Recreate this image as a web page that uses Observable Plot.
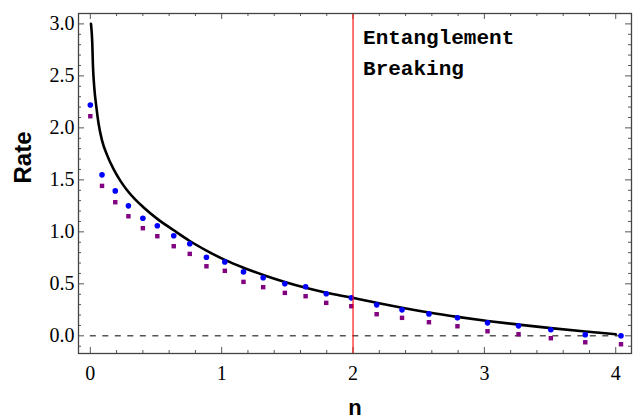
<!DOCTYPE html>
<html>
<head>
<meta charset="utf-8">
<script src="https://cdn.jsdelivr.net/npm/d3@7"></script>
<script src="https://cdn.jsdelivr.net/npm/@observablehq/plot@0.6"></script>
<style>
  html, body { margin: 0; padding: 0; background: white; }
</style>
</head>
<body>
<div id="chart"></div>
<script>
// Sampled n values of the two point series
const nValues = [0, 0.089, 0.19, 0.29, 0.40, 0.51, 0.635, 0.757, 0.884, 1.024, 1.166, 1.316, 1.481, 1.639, 1.796, 1.987, 2.180, 2.373, 2.578, 2.795, 3.024, 3.260, 3.506, 3.768, 4.040];
// Blue circles
const rateBlue = [2.22, 1.548, 1.394, 1.25, 1.131, 1.058, 0.962, 0.885, 0.756, 0.711, 0.615, 0.558, 0.5, 0.471, 0.404, 0.365, 0.298, 0.25, 0.211, 0.173, 0.125, 0.096, 0.058, 0.01, 0.0];
// Purple squares
const ratePurple = [2.112, 1.442, 1.285, 1.15, 1.035, 0.958, 0.862, 0.788, 0.669, 0.625, 0.519, 0.468, 0.413, 0.381, 0.317, 0.285, 0.208, 0.173, 0.131, 0.092, 0.044, 0.015, -0.023, -0.062, -0.081];
// Black bound curve
const curveN    = [0.005, 0.015, 0.02, 0.03, 0.046, 0.063, 0.089, 0.127, 0.178, 0.229, 0.28, 0.343, 0.406, 0.51, 0.635, 0.757, 0.884, 1.024, 1.166, 1.316, 1.481, 1.639, 1.796, 1.987, 2.18, 2.373, 2.578, 2.795, 3.024, 3.26, 3.506, 3.768, 4.0];
const curveRate = [3.0, 2.81, 2.60, 2.39, 2.20, 2.04, 1.88, 1.74, 1.60, 1.49, 1.40, 1.31, 1.235, 1.125, 1.015, 0.912, 0.82, 0.73, 0.655, 0.585, 0.518, 0.462, 0.415, 0.368, 0.318, 0.27, 0.224, 0.182, 0.143, 0.108, 0.074, 0.042, 0.015];
// Entanglement breaking threshold
const breakN = 2;
const annotation = ["Entanglement\nBreaking"];
// Tick values
const xMajor = [0, 1, 2, 3, 4];
const yMajor = [0, 0.5, 1.0, 1.5, 2.0, 2.5, 3.0];
const xMinor = d3.range(0.2, 4.1, 0.2).filter(v => Math.abs(v - Math.round(v)) > 1e-6);
const yMinor = d3.range(-0.1, 3.11, 0.1).map(v => +v.toFixed(1)).filter(v => Math.abs(v * 2 - Math.round(v * 2)) > 1e-6);

const points = nValues.map((n, i) => ({n, blue: rateBlue[i], purple: ratePurple[i]}));
const curve = curveN.map((n, i) => ({n, rate: curveRate[i]}));

const W = 638, H = 418, mL = 78, mR = 7, mT = 13, mB = 65;
const innerH = H - mT - mB;
const innerW = W - mL - mR;
const tickColor = "#555";
const serif = "'Liberation Serif', 'Times New Roman', serif";

const chart = Plot.plot({
  width: W,
  height: H,
  marginLeft: mL,
  marginRight: mR,
  marginTop: mT,
  marginBottom: mB,
  x: {domain: [-0.09, 4.12]},
  y: {domain: [-0.17, 3.10]},
  style: {background: "white", color: "black"},
  marks: [
    // tick labels
    Plot.axisX({ticks: xMajor, tickSize: 0, tickPadding: 12, tickFormat: d => String(d), fontSize: 20, fontFamily: serif, label: null}),
    Plot.axisY({ticks: yMajor, tickSize: 0, tickPadding: 4, tickFormat: d3.format(".1f"), fontSize: 20, fontFamily: serif, label: null}),
    // inward ticks (bottom, top)
    Plot.tickX(xMajor, {x: d => d, insetTop: innerH - 6, stroke: tickColor}),
    Plot.tickX(xMajor, {x: d => d, insetBottom: innerH - 6, stroke: tickColor}),
    Plot.tickX(xMinor, {x: d => d, insetTop: innerH - 3, stroke: tickColor}),
    Plot.tickX(xMinor, {x: d => d, insetBottom: innerH - 3, stroke: tickColor}),
    // inward ticks (left, right)
    Plot.tickY(yMajor, {y: d => d, insetRight: innerW - 6, stroke: tickColor}),
    Plot.tickY(yMajor, {y: d => d, insetLeft: innerW - 6, stroke: tickColor}),
    Plot.tickY(yMinor, {y: d => d, insetRight: innerW - 3, stroke: tickColor}),
    Plot.tickY(yMinor, {y: d => d, insetLeft: innerW - 3, stroke: tickColor}),
    // zero dashed line
    Plot.ruleY([0], {x1: nValues[0], x2: nValues[nValues.length - 1], stroke: "#555", strokeWidth: 1.5, strokeDasharray: "6,6.5"}),
    // bound curve
    Plot.line(curve, {x: "n", y: "rate", stroke: "black", strokeWidth: 2.6, curve: "monotone-x"}),
    // points
    Plot.dot(points, {x: "n", y: "purple", symbol: "square", r: 2.5, fill: "#800080", stroke: null}),
    Plot.dot(points, {x: "n", y: "blue", r: 2.8, fill: "#0000ff", stroke: null}),
    // threshold line
    Plot.ruleX([breakN], {stroke: "#ff0000", strokeWidth: 1.1}),
    Plot.text(annotation, {x: () => breakN, frameAnchor: "top", dx: 10, dy: 8, textAnchor: "start", lineAnchor: "top", lineHeight: 1.476, fontSize: 21, fontWeight: "bold", fontFamily: "'Liberation Mono', 'Courier New', monospace", fill: "black"}),
    // frame
    Plot.frame({stroke: "#444", strokeWidth: 1.3}),
    // axis titles
    Plot.text(["Rate"], {frameAnchor: "left", dx: -55, rotate: -90, fontSize: 24, fontWeight: "bold", fontFamily: "'Liberation Sans', Arial, sans-serif", fill: "black"}),
    Plot.text(["n"], {frameAnchor: "bottom", dy: 61, lineAnchor: "bottom", fontSize: 22, fontWeight: "bold", fontFamily: "'Liberation Sans', Arial, sans-serif", fill: "black"})
  ]
});
document.getElementById("chart").appendChild(chart);
</script>
</body>
</html>
